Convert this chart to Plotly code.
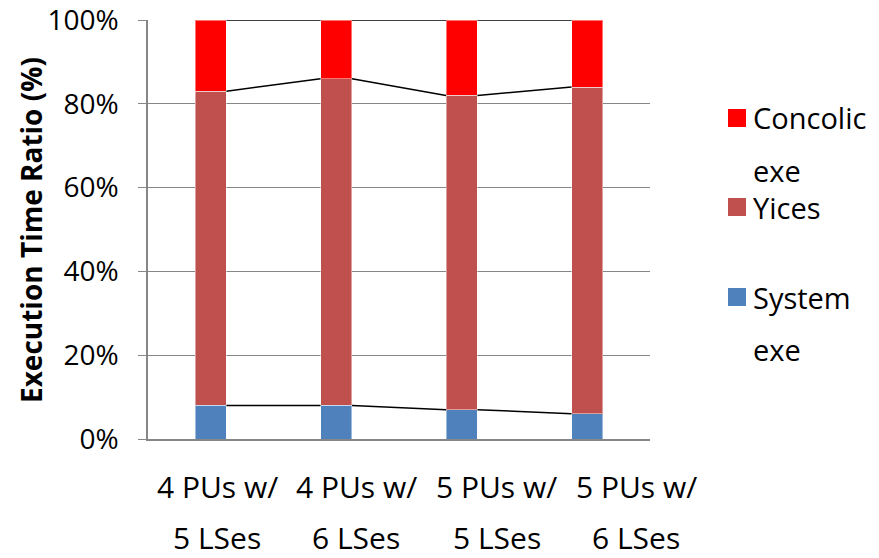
import plotly.graph_objects as go

# Execution time breakdown per configuration (percent of total)
label_top = ["4 PUs w/", "4 PUs w/", "5 PUs w/", "5 PUs w/"]
label_bottom = ["5 LSes", "6 LSes", "5 LSes", "6 LSes"]
system_exe = [8, 8, 7, 6]
yices = [75, 78, 75, 78]
concolic_exe = [17, 14, 18, 16]

series_names = ["System exe", "Yices", "Concolic exe"]
series_values = [system_exe, yices, concolic_exe]
series_colors = ["#4F81BD", "#C0504D", "#FF0000"]
y_ticks = [0, 20, 40, 60, 80, 100]

W, H = 879, 558
L, R, T, B = 148, 229, 20, 119
PW, PH = W - L - R, H - T - B
BAR_W = 0.25
FONT = "Open Sans"


def px_x(px):
    return (px - L) / PW


def px_y(py):
    return (H - B - py) / PH


xs = list(range(len(label_top)))
fig = go.Figure()

for name, vals, col in zip(series_names, series_values, series_colors):
    fig.add_trace(go.Bar(
        x=xs, y=vals, name=name, width=BAR_W,
        marker=dict(color=col, line=dict(color="rgba(255,255,255,0.45)", width=1)),
        showlegend=False,
    ))

# Series lines joining the segment tops of neighbouring bars
cum = [0] * len(xs)
for vals in series_values:
    cum = [c + v for c, v in zip(cum, vals)]
    lx, ly = [], []
    for i in range(len(xs) - 1):
        lx += [xs[i] + BAR_W / 2, xs[i + 1] - BAR_W / 2, None]
        ly += [cum[i], cum[i + 1], None]
    fig.add_trace(go.Scatter(x=lx, y=ly, mode="lines",
                             line=dict(color="black", width=1.5),
                             showlegend=False, hoverinfo="skip", cliponaxis=False))

annotations = []

# Two-line category labels
label_px = [217, 356, 496.5, 636]
for cx, t1, t2 in zip(label_px, label_top, label_bottom):
    for txt, cy in ((t1, 486), (t2, 537)):
        annotations.append(dict(x=px_x(cx), y=px_y(cy), xref="paper", yref="paper",
                                text=txt, showarrow=False, xanchor="center",
                                yanchor="middle", borderpad=0,
                                font=dict(size=30, color="#000")))

# Axis title
annotations.append(dict(x=px_x(31), y=px_y(230), xref="paper", yref="paper",
                        text="<b>Execution Time Ratio (%)</b>", textangle=-90,
                        showarrow=False, xanchor="center", yanchor="middle",
                        font=dict(size=28, color="#000")))

# Legend
shapes = []
legend_rows = [
    ("#FF0000", ["Concolic", "exe"], 118),
    ("#C0504D", ["Yices"], 207),
    ("#4F81BD", ["System", "exe"], 297),
]
for col, lines, cy in legend_rows:
    shapes.append(dict(type="rect", xref="paper", yref="paper",
                       x0=px_x(728), x1=px_x(746), y0=px_y(cy + 9), y1=px_y(cy - 9),
                       fillcolor=col, line=dict(width=0)))
    for k, txt in enumerate(lines):
        annotations.append(dict(x=px_x(751), y=px_y(cy + 52 * k), xref="paper",
                                yref="paper", text=txt, showarrow=False,
                                xanchor="left", yanchor="middle",
                                font=dict(size=29, color="#000")))

fig.update_layout(
    width=W, height=H, barmode="stack", bargap=0.75,
    margin=dict(l=L, r=R, t=T, b=B, pad=0, autoexpand=False),
    plot_bgcolor="white", paper_bgcolor="white",
    font=dict(family=FONT, color="#000"),
    annotations=annotations, shapes=shapes,
    xaxis=dict(range=[-0.5, len(xs) - 0.5], tickvals=xs, showticklabels=False,
               showgrid=False, showline=True, linecolor="#868686", linewidth=2,
               ticks="", zeroline=False, fixedrange=True, automargin=False),
    yaxis=dict(range=[0, 100], tickvals=y_ticks,
               ticktext=[f"{v}%" for v in y_ticks],
               showgrid=True, gridcolor="#868686", gridwidth=1,
               showline=True, linecolor="#868686", linewidth=1.5,
               ticks="outside", ticklen=8, tickcolor="#868686",
               tickfont=dict(size=28, color="#000"), ticklabelstandoff=14,
               ticklabeloverflow="allow",
               zeroline=False, fixedrange=True, automargin=False),
)

fig.write_html("out.html")
